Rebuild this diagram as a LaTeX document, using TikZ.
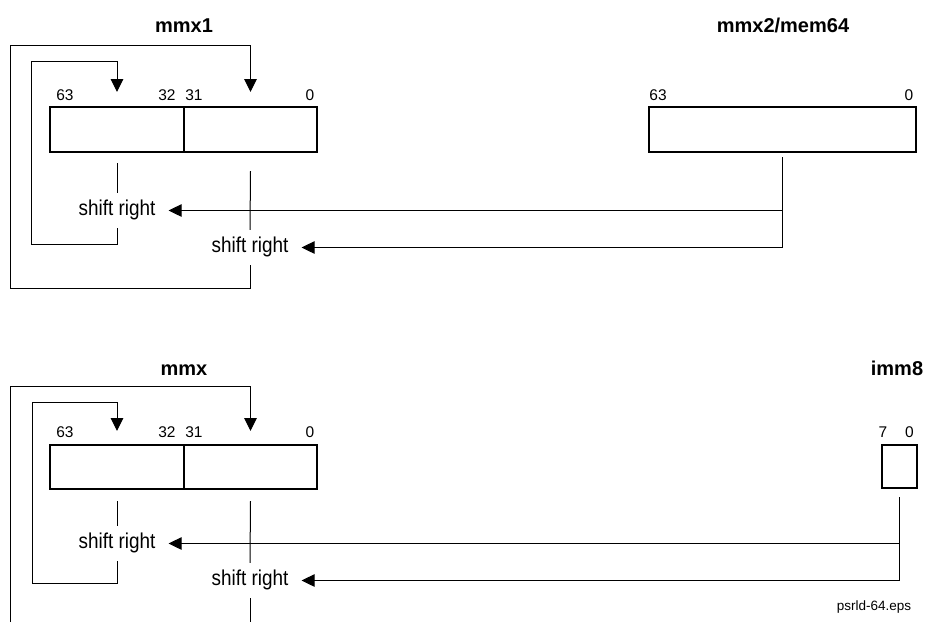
\documentclass[tikz,border=0pt]{standalone}
\usepackage{fontspec}
\setmainfont{Liberation Sans}
\newfontfamily\condfont[FakeStretch=0.88]{Liberation Sans}
\usetikzlibrary{arrows.meta}
\begin{document}
\begin{tikzpicture}[x=1pt,y=-1pt,
  reg/.style={draw,line width=2pt,minimum height=45pt,inner sep=0pt},
  title/.style={anchor=base,font=\fontsize{20}{24}\selectfont\bfseries,inner sep=0pt},
  bit/.style={anchor=base,font=\fontsize{15.5}{18}\selectfont,inner sep=0pt},
  shr/.style={anchor=base,font=\condfont\fontsize{21.5}{24}\selectfont,text height=13pt,text depth=4pt,inner xsep=13pt,inner ysep=9pt},
  wire/.style={line width=1pt},
  arr/.style={wire,-{Triangle[length=13pt,width=12.5pt]}},
]
\useasboundingbox (0,0) rectangle (927,622);

% ---------- top ----------
\node[title] (t1) at (184,32) {mmx1};
\node[title] (t2) at (783,32) {mmx2/mem64};
\node[bit] (b1a) at (65,100) {63};
\node[bit] (b1b) at (167,100) {32};
\node[bit] (b1c) at (194,100) {31};
\node[bit] (b1d) at (310,100) {0};
\node[bit] (b2a) at (658,100) {63};
\node[bit] (b2b) at (909,100) {0};
\node[reg,minimum width=134pt] (r1h) at (117,129.5) {};
\node[reg,minimum width=133pt] (r1l) at (250.5,129.5) {};
\node[reg,minimum width=267pt] (s1) at (782.5,129.5) {};
\node[shr] (sr1) at (117,215) {shift right};
\node[shr] (sr2) at (250,252) {shift right};

\draw[wire] ([yshift=-10pt]r1h.south) -- (sr1.north);
\draw[wire] ([yshift=-18pt]r1l.south) -- (sr2.north);
\draw[arr] (sr1.south) -- ++(0,16) -| (31,61) -| ([yshift=14pt]r1h.north);
\draw[arr] (sr2.south) -- (250,288) -| (10,45) -| ([yshift=14pt]r1l.north);
\draw[arr] ([yshift=-4pt]s1.south) |- (sr2.east);
\draw[arr] (s1.south |- sr1.east) -- (sr1.east);

% ---------- bottom ----------
\node[title] (t3) at (184,375) {mmx};
\node[title] (t4) at (897,375) {imm8};
\node[bit] (b3a) at (65,437) {63};
\node[bit] (b3b) at (167,437) {32};
\node[bit] (b3c) at (194,437) {31};
\node[bit] (b3d) at (310,437) {0};
\node[bit] (b4a) at (883,437) {7};
\node[bit] (b4b) at (909.5,437) {0};
\node[reg,minimum width=134pt,minimum height=44pt] (r2h) at (117,467) {};
\node[reg,minimum width=133pt,minimum height=44pt] (r2l) at (250.5,467) {};
\node[reg,minimum width=35pt,minimum height=43pt] (im) at (899,466.5) {};
\node[shr] (sr3) at (117,548) {shift right};
\node[shr] (sr4) at (250,585) {shift right};
\coordinate (e4) at (250,622);
\coordinate (e5) at (10,622);

\draw[wire] ([yshift=-11pt]r2h.south) -- (sr3.north);
\draw[wire] ([yshift=-11pt]r2l.south) -- (sr4.north);
\draw[arr] (sr3.south) -- ++(0,22) -| (32,402) -| ([yshift=13pt]r2h.north);
\draw[wire] (sr4.south) -- (e4);
\draw[arr] (e5) -- (10,386) -| ([yshift=13pt]r2l.north);
\draw[arr] ([yshift=-8pt]im.south) |- (sr4.east);
\draw[arr] (im.south |- sr3.east) -- (sr3.east);

\node[anchor=base,font=\fontsize{13.5}{16}\selectfont,inner sep=0pt] (fn) at (874,610) {psrld-64.eps};
\end{tikzpicture}
\end{document}
